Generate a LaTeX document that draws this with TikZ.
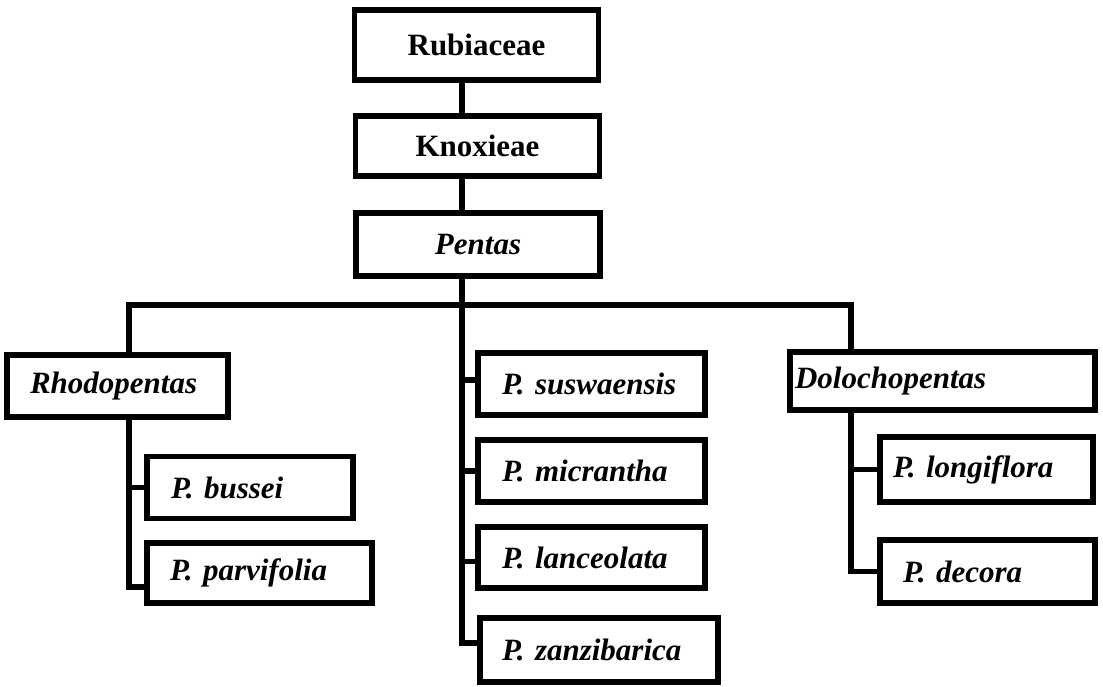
\documentclass[tikz,border=0pt]{standalone}
\usepackage{fontspec}
\setmainfont{Liberation Serif}
\tikzset{
    rankbox/.style={draw=black, line width=5.5pt, minimum width=244pt, minimum height=#1, inner sep=0, font=\fontsize{31}{35}\selectfont\bfseries},
    taxonbox/.style={draw=black, line width=5.5pt, text width=#1, minimum height=62pt, inner xsep=23pt, inner ysep=0, align=left, font=\fontsize{31}{35}\selectfont\bfseries\itshape},
    link/.style={line width=5.5pt}
}
\begin{document}
\begin{tikzpicture}[x=1pt, y=-1pt]
    \useasboundingbox (0,0) rectangle (1103,686);
    % ranks
    \node[rankbox=70pt] (rubi) at (476.5,45) {Rubiaceae};
    \node[rankbox=60pt] (knox) at (477.5,146) {Knoxieae};
    \node[rankbox=63pt, font=\fontsize{31}{35}\selectfont\bfseries\itshape] (pent) at (478,244.5) {Pentas};
    \coordinate (trunk) at (462,305);
    \coordinate (barL) at (129,305);
    \coordinate (barR) at (851,305);
    % sections and species
    \node[taxonbox=175pt] (rhodo) at (117.5,386) {Rhodopentas};
    \node[taxonbox=158pt, inner xsep=24pt] (bussei) at (250,487.5) {P. bussei};
    \node[taxonbox=179pt, minimum height=60pt] (parvi) at (259.5,573) {P. parvifolia};
    \node[taxonbox=179pt, inner xsep=24pt] (susw) at (591.5,384) {P. suswaensis};
    \node[taxonbox=179pt, inner xsep=24pt] (micr) at (591.5,471) {P. micrantha};
    \node[taxonbox=179pt, inner xsep=24pt, minimum height=61pt] (lanc) at (591.5,557.5) {P. lanceolata};
    \node[taxonbox=194pt, inner xsep=22pt, minimum height=64pt] (zanz) at (599,650) {P. zanzibarica};
    \node[taxonbox=295pt, inner xsep=5pt, minimum height=58pt] (dolo) at (942.5,381) {Dolochopentas};
    \node[taxonbox=187pt, inner xsep=13pt, minimum height=65pt] (longi) at (986.5,469.5) {P. longiflora};
    \node[taxonbox=169pt, minimum height=63pt] (decora) at (987.5,571.5) {P. decora};
    % connectors
    \draw[link] (rubi.south -| trunk) -- (knox.north -| trunk);
    \draw[link] (knox.south -| trunk) -- (pent.north -| trunk);
    \draw[link] (pent.south -| trunk) -- (trunk);
    \draw[link] (rhodo.north -| barL) -- (barL) -- (barR) -- (dolo.north -| barR);
    \draw[link] (rhodo.south -| barL) |- ([yshift=-14pt]parvi.west);
    \draw[link] (bussei.west) -- (bussei.west -| barL);
    \draw[link] (trunk) |- ([yshift=7pt]zanz.west);
    \draw[link] ([yshift=4pt]susw.west) -- ([yshift=4pt]susw.west -| trunk);
    \draw[link] (micr.west) -- (micr.west -| trunk);
    \draw[link] ([yshift=-4pt]lanc.west) -- ([yshift=-4pt]lanc.west -| trunk);
    \draw[link] (dolo.south -| barR) |- (decora.west);
    \draw[link] (longi.west) -- (longi.west -| barR);
\end{tikzpicture}
\end{document}
